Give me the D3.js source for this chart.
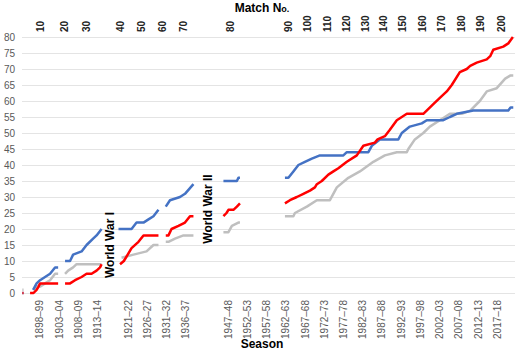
<!DOCTYPE html>
<html>
<head>
<meta charset="utf-8">
<script src="https://cdn.jsdelivr.net/npm/d3@7"></script>
<style>
  body { margin: 0; background: #fff; }
  svg { font-family: "Liberation Sans", Arial, sans-serif; }
  .axis-label { font-weight: bold; font-size: 12px; fill: #000; }
  .war-label { font-weight: bold; font-size: 12px; fill: #000; }
</style>
</head>
<body>
<svg width="520" height="351"></svg>
<script>
// seasons shown on the bottom axis (start year of the season)
const seasonTicks = [1898, 1903, 1908, 1913, 1921, 1926, 1931, 1936, 1947, 1952, 1957,
  1962, 1967, 1972, 1977, 1982, 1987, 1992, 1997, 2002, 2007, 2012, 2017];

// match numbers on the top axis and the season where they fall
const matchNumbers = [10, 20, 30, 40, 50, 60, 70, 80, 90, 100, 110, 120, 130, 140, 150, 160, 170, 180, 190, 200];
const matchSeasons = [1898.2, 1904.5, 1910.1, 1919.1, 1924.5, 1929.8, 1935.5, 1947.6, 1962.6, 1967.7,
  1972.8, 1977.7, 1982.7, 1987.5, 1992.4, 1997.5, 2002.5, 2007.7, 2012.6, 2018.1];

const yTicks = [0, 5, 10, 15, 20, 25, 30, 35, 40, 45, 50, 55, 60, 65, 70, 75, 80];

// cumulative totals, [season, count], one list per unbroken run of seasons
const blueWins = [
  [[1893.6, 0], [1893.9, 0]],
  [[1896.4, 1], [1897.3, 3], [1898.2, 4], [1899.5, 5], [1900.8, 6], [1902.1, 8], [1902.9, 8]],
  [[1904.7, 10], [1906.0, 10], [1906.8, 12], [1909.0, 13], [1910.3, 15], [1912.0, 17], [1912.9, 18], [1914.2, 20]],
  [[1918.6, 20], [1922.0, 20], [1923.3, 22], [1925.1, 22], [1926.4, 23], [1927.7, 24], [1929.0, 26]],
  [[1930.9, 27], [1932.0, 29], [1934.6, 30], [1935.9, 31], [1938.1, 34]],
  [[1945.9, 35], [1949.4, 35], [1949.8, 36], [1950.2, 36]],
  [[1961.9, 36], [1962.8, 36], [1964.1, 38], [1965.4, 40], [1967.1, 41], [1968.9, 42], [1971.0, 43],
   [1977.1, 43], [1978.0, 44], [1983.6, 44], [1984.5, 46], [1986.6, 48], [1991.4, 48], [1992.3, 50],
   [1994.4, 52], [1997.5, 53], [1998.8, 54], [2003.1, 54], [2004.8, 55], [2006.6, 56], [2010.9, 57],
   [2020.0, 57], [2020.6, 58], [2021.3, 58]]
];

const redWins = [
  [[1893.6, 0], [1893.9, 0]],
  [[1895.6, 0], [1896.5, 0], [1897.3, 1], [1897.8, 2], [1898.2, 3], [1902.9, 3]],
  [[1904.7, 3], [1906.0, 3], [1907.3, 4], [1909.0, 5], [1910.3, 6], [1911.6, 6], [1912.9, 7], [1913.8, 8], [1914.2, 9]],
  [[1919.0, 9], [1920.0, 10], [1922.0, 14], [1923.8, 16], [1925.1, 18], [1929.0, 18]],
  [[1930.9, 18], [1931.6, 18], [1932.4, 20], [1934.2, 21], [1935.9, 22], [1937.2, 24], [1938.1, 24]],
  [[1945.9, 24], [1946.7, 25], [1947.2, 26], [1948.5, 26], [1949.4, 27], [1950.2, 28]],
  [[1961.9, 28], [1963.2, 29], [1965.0, 30], [1966.7, 31], [1968.4, 32], [1969.7, 33], [1970.2, 34],
   [1971.5, 35], [1973.2, 37], [1974.5, 38], [1975.8, 39], [1978.0, 41], [1980.6, 43], [1982.3, 46],
   [1985.3, 47], [1986.0, 48], [1987.9, 49], [1989.2, 51], [1991.0, 54], [1993.6, 56], [1997.9, 56],
   [2000.5, 59], [2002.2, 61], [2004.0, 63], [2005.3, 65], [2007.4, 69], [2009.2, 70], [2010.1, 71],
   [2011.8, 72], [2014.4, 73], [2015.3, 74], [2016.1, 76], [2018.7, 77], [2020.0, 78], [2021.2, 80]]
];

const draws = [
  [[1893.6, 1], [1893.9, 1]],
  [[1896.4, 1], [1897.3, 2], [1898.2, 2], [1899.5, 3], [1900.8, 4], [1902.1, 6], [1902.9, 6]],
  [[1904.7, 6], [1905.5, 7], [1906.8, 8], [1907.7, 9], [1914.2, 9]],
  [[1919.4, 11], [1922.5, 12], [1925.9, 13], [1927.7, 15], [1929.0, 15]],
  [[1930.9, 16], [1931.6, 16], [1933.3, 17], [1935.5, 18], [1938.1, 18]],
  [[1945.9, 19], [1947.2, 19], [1948.1, 21], [1949.8, 22], [1950.2, 22]],
  [[1961.9, 24], [1964.1, 24], [1964.5, 25], [1967.6, 27], [1970.2, 29], [1973.6, 29], [1975.4, 33],
   [1978.4, 36], [1981.4, 38], [1984.9, 41], [1987.9, 43], [1991.0, 44], [1993.6, 44], [1994.0, 45],
   [1995.7, 48], [1997.9, 50], [1999.6, 52], [2002.2, 54], [2004.8, 56], [2007.9, 56], [2010.1, 57],
   [2012.6, 60], [2014.4, 63], [2017.0, 64], [2019.2, 67], [2020.6, 68], [2021.3, 68]]
];

const series = [
  { name: 'Draws', color: '#bfbfbf', segments: draws },
  { name: 'Blue wins', color: '#4472c4', segments: blueWins },
  { name: 'Red wins', color: '#ff0000', segments: redWins }
];

const svg = d3.select("svg");
const width = +svg.attr("width");
const height = +svg.attr("height");
const margin = { top: 37, right: 5, bottom: 58, left: 22 };

const xScale = d3.scaleLinear()
  .domain([1893.5, 2021.75])
  .range([margin.left, width - margin.right]);

const yScale = d3.scaleLinear()
  .domain([0, 80])
  .range([height - margin.bottom, margin.top]);

// gridlines
svg.append('g')
  .attr('transform', `translate(${margin.left},0)`)
  .call(d3.axisLeft(yScale).tickValues(yTicks).tickSize(-(width - margin.left - margin.right)).tickFormat(''))
  .call(g => g.select('.domain').remove())
  .selectAll('.tick line')
  .attr('stroke', '#e4e4e4');

// y axis labels
svg.append('g')
  .attr('transform', `translate(${margin.left},0)`)
  .call(d3.axisLeft(yScale).tickValues(yTicks).tickSize(0).tickPadding(7))
  .call(g => g.select('.domain').remove())
  .selectAll('text')
  .attr('font-size', 10)
  .attr('font-family', '"Liberation Sans", Arial, sans-serif')
  .attr('fill', '#595959');

// bottom axis: seasons
const xAxisG = svg.append('g')
  .attr('transform', `translate(0,${yScale(0)})`)
  .call(d3.axisBottom(xScale).tickValues(seasonTicks).tickSize(0)
    .tickFormat(d => `${d}–${String((d + 1) % 100).padStart(2, '0')}`));
xAxisG.select('.domain').remove();
xAxisG.selectAll('text')
  .attr('transform', 'rotate(-90)')
  .attr('x', -7)
  .attr('y', 0)
  .attr('dy', '0.35em')
  .attr('text-anchor', 'end')
  .attr('font-size', 10)
  .attr('font-family', '"Liberation Sans", Arial, sans-serif')
  .attr('fill', '#595959');

// top axis: match numbers
const topAxisG = svg.append('g')
  .attr('transform', `translate(0,${margin.top - 2})`)
  .call(d3.axisTop(xScale).tickValues(matchSeasons).tickSize(0)
    .tickFormat((d, i) => matchNumbers[i]));
topAxisG.select('.domain').remove();
topAxisG.selectAll('text')
  .attr('transform', 'rotate(-90)')
  .attr('x', 3)
  .attr('y', 0)
  .attr('dy', '0.35em')
  .attr('text-anchor', 'start')
  .attr('font-size', 10)
  .attr('font-weight', 'bold')
  .attr('font-family', '"Liberation Sans", Arial, sans-serif')
  .attr('fill', '#222');

// lines
const line = d3.line()
  .x(d => xScale(d[0]))
  .y(d => yScale(d[1]));

series.forEach(s => {
  svg.append('g')
    .selectAll('path')
    .data(s.segments)
    .enter().append('path')
    .attr('d', line)
    .attr('fill', 'none')
    .attr('stroke', s.color)
    .attr('stroke-width', 2.5)
    .attr('stroke-linejoin', 'round');
});

// war labels
svg.append('text')
  .attr('class', 'war-label')
  .attr('transform', `translate(${xScale(1916.3)},245) rotate(-90)`)
  .attr('text-anchor', 'middle')
  .attr('dy', '0.35em')
  .text('World War I');

svg.append('text')
  .attr('class', 'war-label')
  .attr('transform', `translate(${xScale(1941.9)},209) rotate(-90)`)
  .attr('text-anchor', 'middle')
  .attr('dy', '0.35em')
  .text('World War II');

// axis titles
const topTitle = svg.append('text')
  .attr('class', 'axis-label')
  .attr('x', 262)
  .attr('y', 12)
  .attr('text-anchor', 'middle');
topTitle.append('tspan').text('Match N');
topTitle.append('tspan').attr('font-size', 9).text('o.');

svg.append('text')
  .attr('class', 'axis-label')
  .attr('x', 262)
  .attr('y', 348)
  .attr('text-anchor', 'middle')
  .text('Season');
</script>
</body>
</html>
